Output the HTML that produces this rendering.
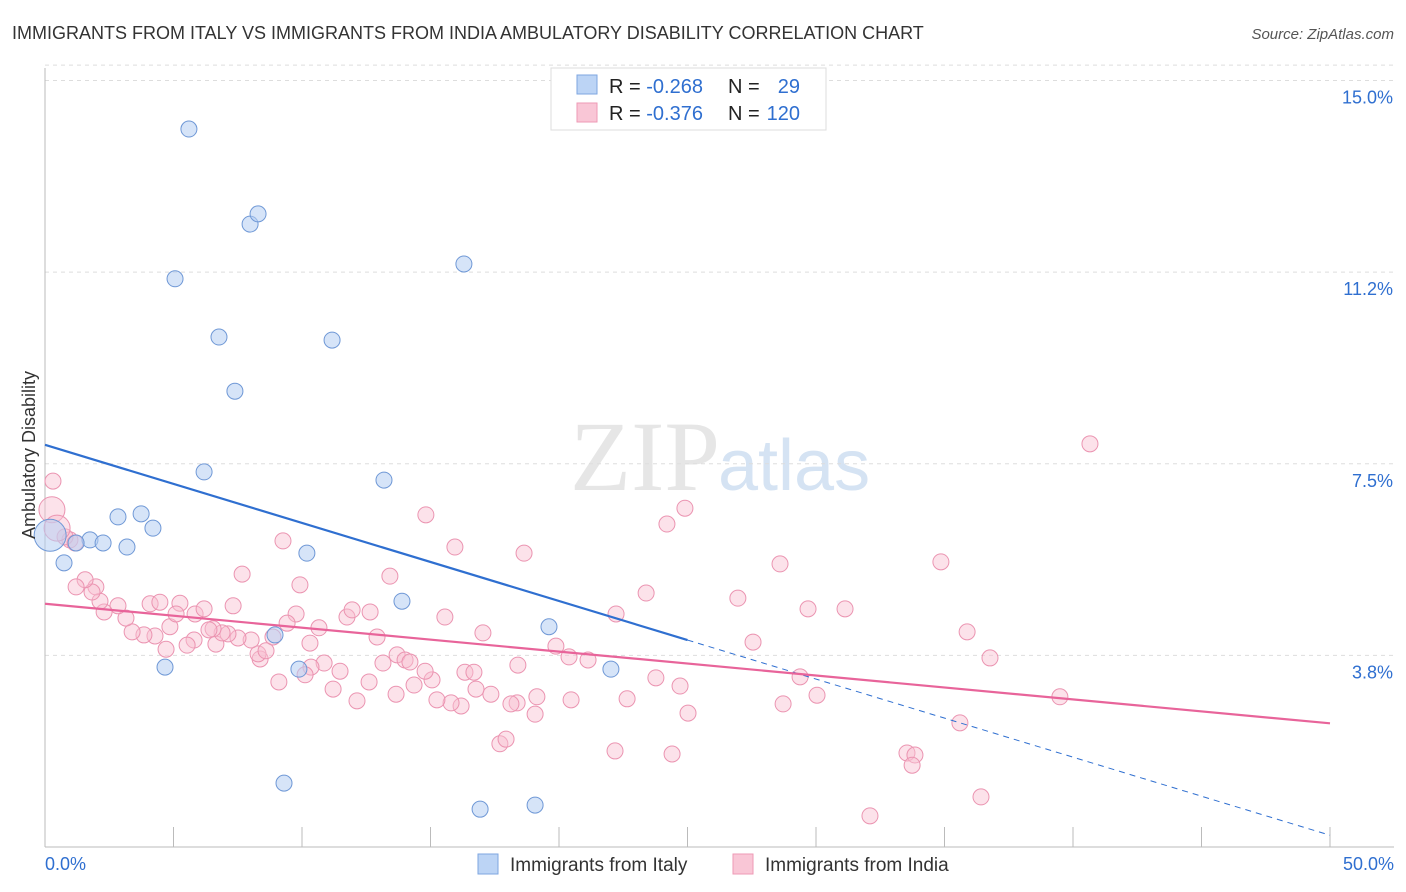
<!DOCTYPE html>
<html><head><meta charset="utf-8"><style>
body{margin:0;background:#fff;font-family:"Liberation Sans",sans-serif;}
#wrap{position:relative;width:1406px;height:892px;overflow:hidden;}
</style></head><body>
<div id="wrap">
<svg id="svg" width="1406" height="892" xmlns="http://www.w3.org/2000/svg">
<text x="12" y="39" font-size="18" fill="#333">IMMIGRANTS FROM ITALY VS IMMIGRANTS FROM INDIA AMBULATORY DISABILITY CORRELATION CHART</text>
<text x="1394" y="39" font-size="15" fill="#555" font-style="italic" text-anchor="end">Source: ZipAtlas.com</text>
<text x="720" y="490" font-size="100" fill="#e6e6e6" font-family="Liberation Serif,serif" text-anchor="end">ZIP</text>
<text x="718" y="490" font-size="72" fill="#d5e3f3" text-anchor="start">atlas</text>
<g id="grid"></g><g id="axes"></g><g id="pts"></g><g id="lines"></g>
<text transform="translate(35,455) rotate(-90)" font-size="18" fill="#333" text-anchor="middle">Ambulatory Disability</text>
<g>
<rect x="551" y="68" width="275" height="62" fill="#fff" stroke="#ddd"/>
<rect x="577" y="75" width="20" height="19" fill="#bcd4f5" stroke="#7ea6e0"/>
<rect x="577" y="103" width="20" height="19" fill="#f9c6d6" stroke="#ee9ab5"/>
<text x="609" y="93" font-size="20" fill="#222">R = <tspan fill="#2f6fd0">-0.268</tspan></text>
<text x="728" y="93" font-size="20" fill="#222">N = </text><text x="800" y="93" font-size="20" fill="#2f6fd0" text-anchor="end">29</text>
<text x="609" y="120" font-size="20" fill="#222">R = <tspan fill="#2f6fd0">-0.376</tspan></text>
<text x="728" y="120" font-size="20" fill="#222">N = </text><text x="800" y="120" font-size="20" fill="#2f6fd0" text-anchor="end">120</text>
</g>
<g>
<rect x="478" y="854" width="20" height="20" fill="#bcd4f5" stroke="#7ea6e0"/>
<text x="510" y="871" font-size="19" fill="#333">Immigrants from Italy</text>
<rect x="733" y="854" width="20" height="20" fill="#f9c6d6" stroke="#ee9ab5"/>
<text x="765" y="871" font-size="19" fill="#333">Immigrants from India</text>
</g>
</svg>
</div>
<script>
const yTicks=[3.75,7.5,11.25,15];
const yTickLabels=["3.8%","7.5%","11.2%","15.0%"];
const xTickLabels=["0.0%","50.0%"];
const italyX=[5.6,7.98,8.29,5.06,16.3,6.77,11.17,7.39,6.19,13.19,2.84,3.74,4.2,1.75,2.26,1.21,3.19,0.74,10.19,13.89,19.61,8.95,4.67,9.88,22.02,9.3,16.93,19.07,0.2];
const italyY=[14.05,12.19,12.39,11.12,11.41,9.98,9.92,8.92,7.34,7.18,6.46,6.52,6.24,6.01,5.95,5.95,5.87,5.56,5.75,4.81,4.31,4.15,3.52,3.48,3.48,1.25,0.74,0.82,6.1];
const indiaX=[40.66,24.9,24.2,14.82,9.26,15.95,18.64,34.86,28.6,7.67,13.42,23.39,26.96,29.69,31.13,22.22,35.88,27.55,36.77,29.38,39.49,30.04,28.72,25.02,35.6,33.54,33.85,33.74,36.42,32.1,24.4,22.18,17.7,17.94,20.47,19.14,19.07,18.37,18.13,17.35,16.19,15.8,15.25,16.77,16.34,16.69,15.06,14.79,14.36,13.66,12.61,12.14,11.21,11.48,10.86,10.35,10.12,9.1,8.37,8.29,8.6,8.02,7.51,7.12,6.65,6.89,6.54,6.38,5.8,5.53,4.71,4.86,4.28,3.85,3.39,3.15,2.84,2.3,2.14,1.98,1.83,1.56,1.21,0.97,0.78,1.17,4.09,4.47,5.25,5.1,5.84,6.19,7.32,8.87,9.77,9.92,9.42,10.31,10.66,11.75,11.95,12.65,12.92,13.15,13.7,14.01,14.2,15.56,17.04,18.4,19.88,20.39,21.13,22.65,23.77,24.71,0.31,0.27,0.47];
const indiaY=[7.89,6.63,6.32,6.5,5.99,5.87,5.75,5.58,5.54,5.34,5.3,4.97,4.87,4.66,4.66,4.56,4.21,4.01,3.7,3.33,2.94,2.97,2.8,2.62,2.43,1.84,1.8,1.6,0.98,0.61,1.82,1.88,2.02,2.11,2.88,2.94,2.6,2.82,2.8,2.99,2.76,2.82,2.88,3.09,3.42,3.42,3.27,3.44,3.17,2.99,3.23,2.86,3.09,3.44,3.6,3.52,3.37,3.23,3.68,3.78,3.84,4.05,4.09,4.17,3.97,4.19,4.27,4.25,4.05,3.95,3.87,4.31,4.13,4.15,4.21,4.48,4.72,4.6,4.81,5.09,4.99,5.23,5.09,6.01,6.07,5.95,4.76,4.79,4.77,4.56,4.56,4.66,4.72,4.11,4.56,5.13,4.38,3.99,4.29,4.5,4.64,4.6,4.11,3.6,3.76,3.66,3.62,4.5,4.19,3.56,3.93,3.72,3.66,2.9,3.31,3.15,7.16,6.6,6.24];
const italyLarge=[28];
const indiaLarge=[117,118];
const italyTrend=[7.87,-0.1528];
const indiaTrend=[4.76,-0.0468];
const NS="http://www.w3.org/2000/svg";
const X0=45,X1=1330,Y0=847,YPX=51.1;
const sx=v=>X0+(X1-X0)*v/50, sy=v=>Y0-v*YPX;
function mk(tag,a,parent){const e=document.createElementNS(NS,tag);for(const k in a)e.setAttribute(k,a[k]);document.getElementById(parent).appendChild(e);return e;}
yTicks.forEach((t,i)=>{
 const l=mk('line',{x1:X0,x2:1394,y1:sy(t),y2:sy(t),stroke:'#ddd','stroke-dasharray':'4,4'},'grid');
 
 
 const tx=mk('text',{x:1393,y:sy(t)+23,'font-size':18,fill:'#2f6fd0','text-anchor':'end'},'axes');tx.textContent=yTickLabels[i];
 
 
});
const tg=mk('line',{x1:X0,x2:1394,y1:sy(15.3),y2:sy(15.3),stroke:'#ddd','stroke-dasharray':'4,4'},'grid');


const ya=mk('line',{x1:X0,x2:X0,y1:68,y2:Y0,stroke:'#bbb'},'axes');


const xa=mk('line',{x1:X0,x2:1394,y1:Y0,y2:Y0,stroke:'#bbb'},'axes');


for(let i=0;i<=10;i++){const t=mk('line',{x1:sx(i*5),x2:sx(i*5),y1:Y0-20,y2:Y0,stroke:'#bbb'},'axes');
 
 }
[[0,'start',X0],[1,'end',1394]].forEach(([i,a,x])=>{const t=mk('text',{x:x,y:870,'font-size':18,fill:'#2f6fd0','text-anchor':a},'axes');t.textContent=xTickLabels[i];
 
 });
indiaX.forEach((x,i)=>{const c=mk('circle',{cx:sx(x),cy:sy(indiaY[i]),r:indiaLarge.includes(i)?13:8,fill:'rgba(248,190,208,0.45)',stroke:'#eb94b1','stroke-width':1},'pts');
 
 });
italyX.forEach((x,i)=>{const c=mk('circle',{cx:sx(x),cy:sy(italyY[i]),r:italyLarge.includes(i)?16:8,fill:'rgba(180,205,242,0.55)',stroke:'#6f98d6','stroke-width':1},'pts');
 
 });
const f=(t,x)=>t[0]+t[1]*x;
const b1=mk('line',{x1:sx(0),y1:sy(f(italyTrend,0)),x2:sx(25),y2:sy(f(italyTrend,25)),stroke:'#2f6fd0','stroke-width':2.2},'lines');


const b2=mk('line',{x1:sx(25),y1:sy(f(italyTrend,25)),x2:sx(50),y2:sy(f(italyTrend,50)),stroke:'#2f6fd0','stroke-width':1,'stroke-dasharray':'6,5'},'lines');


const p1=mk('line',{x1:sx(0),y1:sy(f(indiaTrend,0)),x2:sx(50),y2:sy(f(indiaTrend,50)),stroke:'#e8649a','stroke-width':2.2},'lines');


</script>
</body></html>
